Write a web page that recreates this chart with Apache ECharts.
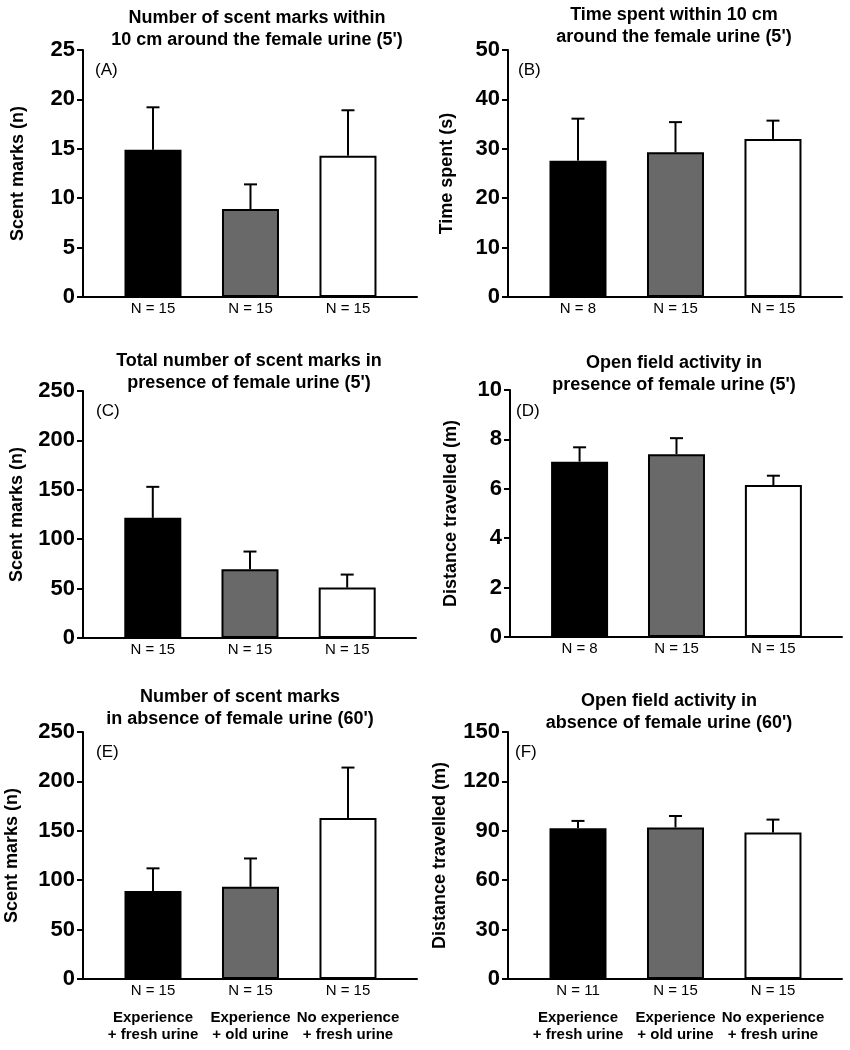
<!DOCTYPE html>
<html>
<head>
<meta charset="utf-8">
<script src="https://cdn.jsdelivr.net/npm/echarts@6/dist/echarts.min.js"></script>
<style>html,body{margin:0;padding:0;background:#fff}#c{width:850px;height:1050px}</style>
</head>
<body>
<div id="c"></div>
<script>
// ---- data ----
const groupLabels = ['Experience\n+ fresh urine', 'Experience\n+ old urine', 'No experience\n+ fresh urine'];
const panelLetters = ['(A)', '(B)', '(C)', '(D)', '(E)', '(F)'];
const panelTitles = [
  'Number of scent marks within\n10 cm around the female urine (5\')',
  'Time spent within 10 cm\naround the female urine (5\')',
  'Total number of scent marks in\npresence of female urine (5\')',
  'Open field activity in\npresence of female urine (5\')',
  'Number of scent marks\nin absence of female urine (60\')',
  'Open field activity in\nabsence of female urine (60\')'
];
const yNames = ['Scent marks (n)', 'Time spent (s)', 'Scent marks (n)', 'Distance travelled (m)', 'Scent marks (n)', 'Distance travelled (m)'];
const yMax = [25, 50, 250, 10, 250, 150];
const yStep = [5, 10, 50, 2, 50, 30];

const meanA = [14.9, 8.9, 14.3],   semA = [4.3, 2.5, 4.6],   nA = [15, 15, 15];
const meanB = [27.6, 29.3, 32.0],  semB = [8.5, 6.1, 3.7],   nB = [8, 15, 15];
const meanC = [121.6, 69.6, 51.0], semC = [31.4, 17.9, 13.2], nC = [15, 15, 15];
const meanD = [7.1, 7.4, 6.15],    semD = [0.58, 0.65, 0.38], nD = [8, 15, 15];
const meanE = [89.0, 93.3, 163.0], semE = [23.0, 28.7, 51.0], nE = [15, 15, 15];
const meanF = [91.6, 92.0, 88.9],  semF = [4.4, 7.0, 7.9],   nF = [11, 15, 15];

const means = [meanA, meanB, meanC, meanD, meanE, meanF];
const sems = [semA, semB, semC, semD, semE, semF];
const ns = [nA, nB, nC, nD, nE, nF];
const showGroups = [false, false, false, false, true, true];

// ---- layout / style ----
const FONT = "'Liberation Sans', Arial, Helvetica, sans-serif";
const grids = [
  {left: 83,  top: 50,  width: 334, height: 247},
  {left: 508, top: 50,  width: 334, height: 247},
  {left: 83,  top: 391, width: 333, height: 247},
  {left: 510, top: 390, width: 332, height: 247},
  {left: 83,  top: 732, width: 334, height: 247},
  {left: 508, top: 732, width: 334, height: 247}
];
const nameGaps = [56, 52, 57, 50, 62, 59];
const titlePos = [[257, 7], [674, 4], [249, 350], [674, 352], [240, 686], [669, 690]];
const letterPos = [[95, 62], [518, 62], [96, 403], [516, 403], [96, 744], [515, 744]];
const fills = ['#000000', '#696969', '#ffffff'];

const xAxes = [], yAxes = [], series = [], graphics = [];
grids.forEach((g, k) => {
  xAxes.push({
    gridIndex: k, type: 'value', min: -0.718, max: 2.708,
    axisLine: {show: true, onZero: false, lineStyle: {color: '#000', width: 2}},
    axisTick: {show: false}, axisLabel: {show: false}, splitLine: {show: false}
  });
  yAxes.push({
    gridIndex: k, type: 'value', min: 0, max: yMax[k], interval: yStep[k],
    name: yNames[k], nameLocation: 'middle', nameGap: nameGaps[k],
    nameTextStyle: {fontFamily: FONT, fontWeight: 'bold', fontSize: 18, color: '#000'},
    axisLine: {show: true, onZero: false, lineStyle: {color: '#000', width: 2}},
    axisTick: {show: true, length: 6, lineStyle: {color: '#000', width: 2}},
    axisLabel: {fontFamily: FONT, fontWeight: 'bold', fontSize: 22, color: '#000', margin: 8},
    splitLine: {show: false}
  });
  series.push({
    type: 'bar', xAxisIndex: k, yAxisIndex: k, barWidth: 57,
    data: means[k].map((v, i) => ({value: [i, v], itemStyle: {color: fills[i]}})),
    itemStyle: {borderColor: '#000', borderWidth: 2},
    emphasis: {disabled: true}, animation: false
  });
  series.push({
    type: 'custom', xAxisIndex: k, yAxisIndex: k, clip: false, animation: false, z: 5,
    data: means[k].map((v, i) => [i, v, sems[k][i]]),
    renderItem: (params, api) => {
      const i = params.dataIndex;
      const x = api.value(0), m = api.value(1), s = api.value(2);
      const p0 = api.coord([x, m]);
      const p1 = api.coord([x, m + s]);
      const pb = api.coord([x, 0]);
      const ls = {stroke: '#000', lineWidth: 2};
      const children = [
        {type: 'line', shape: {x1: p0[0], y1: p0[1], x2: p1[0], y2: p1[1]}, style: ls},
        {type: 'line', shape: {x1: p1[0] - 6.5, y1: p1[1], x2: p1[0] + 6.5, y2: p1[1]}, style: ls},
        {type: 'text', x: pb[0], y: pb[1] + 12, style: {text: 'N = ' + ns[k][i], align: 'center', verticalAlign: 'middle', font: '15px ' + FONT, fill: '#000'}}
      ];
      if (showGroups[k]) {
        children.push({type: 'text', x: pb[0], y: pb[1] + 30, style: {text: groupLabels[i], align: 'center', verticalAlign: 'top', font: 'bold 15px ' + FONT, lineHeight: 17, fill: '#000'}});
      }
      return {type: 'group', children};
    }
  });
  graphics.push({
    type: 'text', x: titlePos[k][0], y: titlePos[k][1],
    style: {text: panelTitles[k], align: 'center', verticalAlign: 'top', font: 'bold 18px ' + FONT, lineHeight: 22, fill: '#000'}
  });
  graphics.push({
    type: 'text', x: letterPos[k][0], y: letterPos[k][1],
    style: {text: panelLetters[k], align: 'left', verticalAlign: 'top', font: '17px ' + FONT, fill: '#000'}
  });
});

const chart = echarts.init(document.getElementById('c'), null, {renderer: 'canvas'});
chart.setOption({
  animation: false,
  backgroundColor: '#fff',
  grid: grids,
  xAxis: xAxes,
  yAxis: yAxes,
  series: series,
  graphic: graphics
});
</script>
</body>
</html>
